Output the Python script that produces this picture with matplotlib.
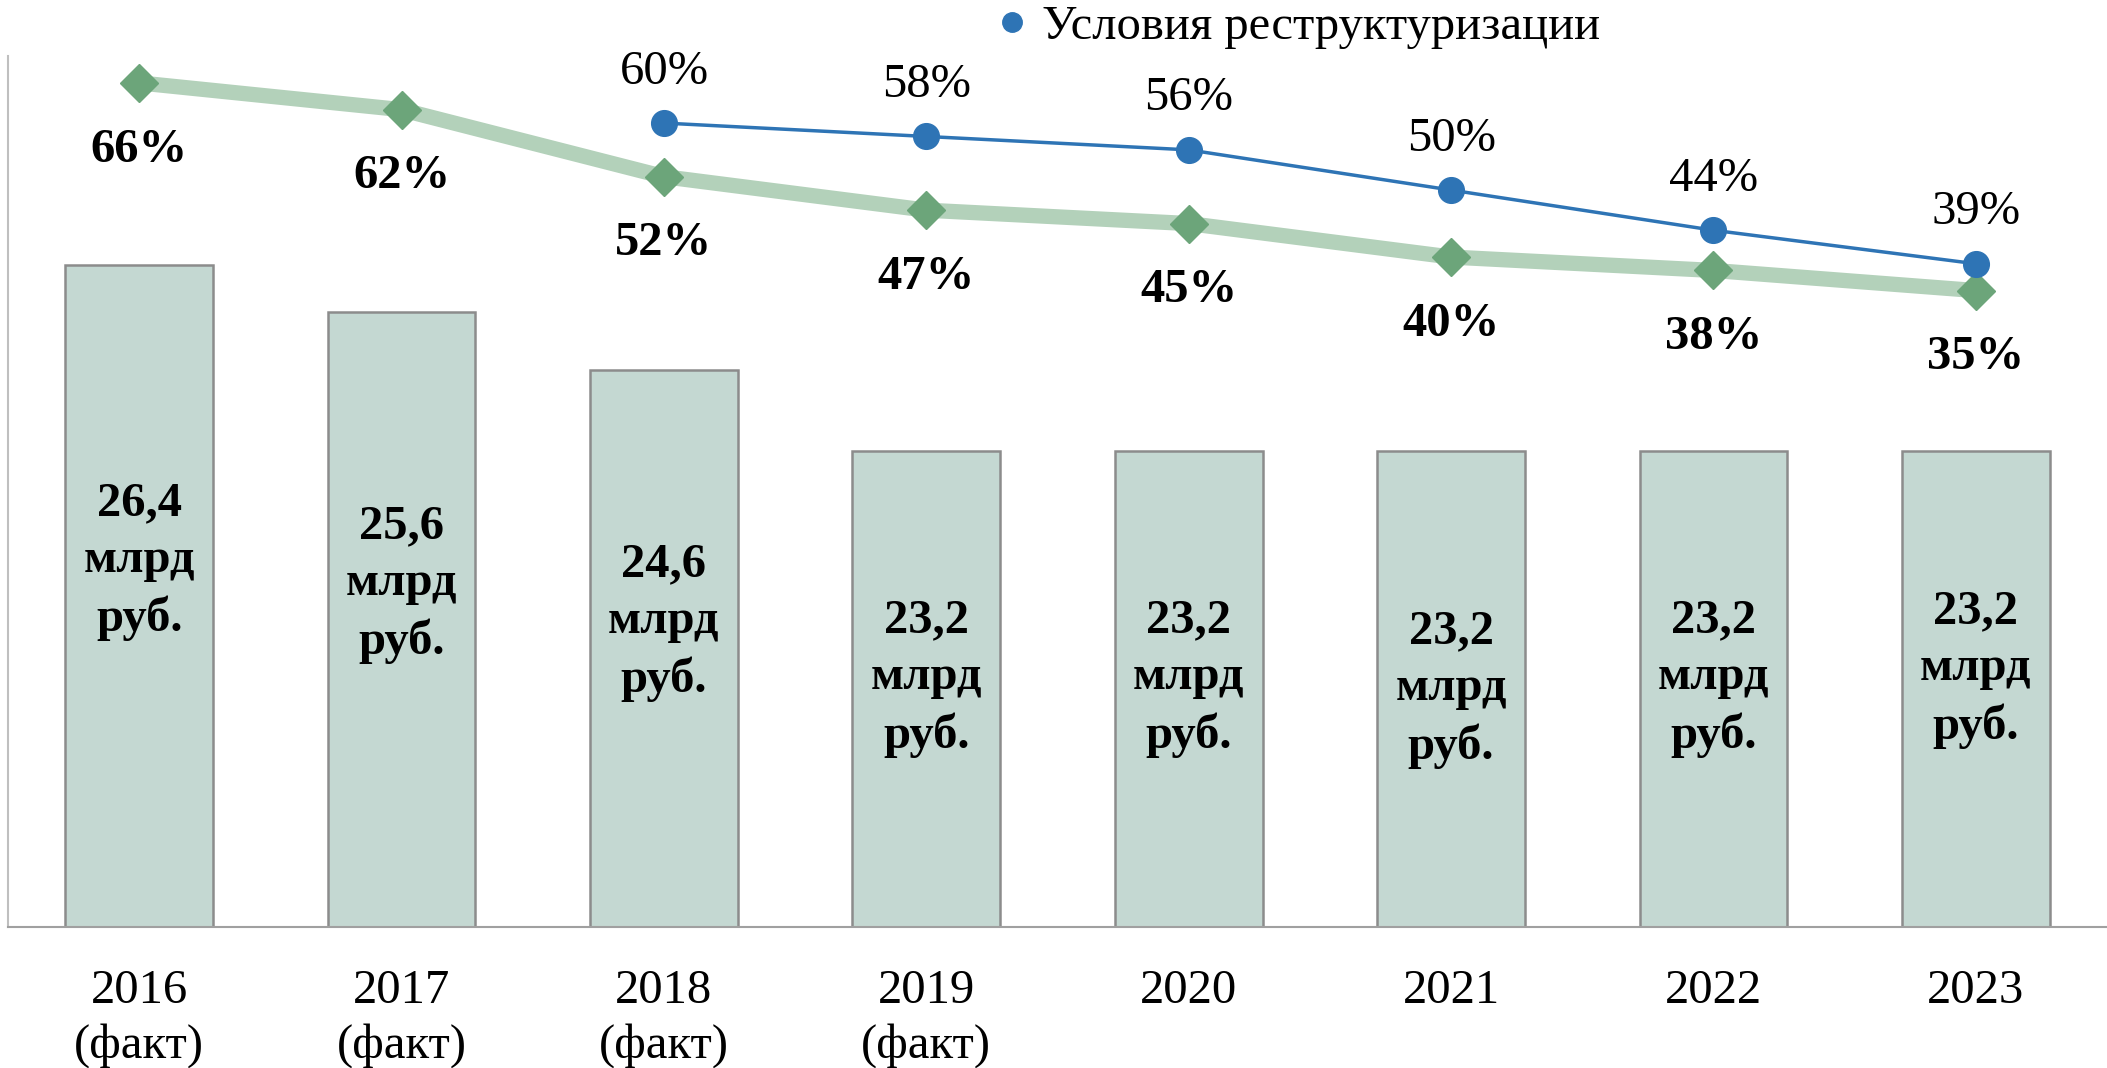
import matplotlib.pyplot as plt
from matplotlib.lines import Line2D

plt.rcParams['font.family'] = ['Liberation Serif', 'DejaVu Serif']

years = ['2016\n(факт)', '2017\n(факт)', '2018\n(факт)', '2019\n(факт)',
         '2020', '2021', '2022', '2023']
amounts = [26.4, 25.6, 24.6, 23.2, 23.2, 23.2, 23.2, 23.2]
share_actual = [66, 62, 52, 47, 45, 40, 38, 35]
restr_idx = [2, 3, 4, 5, 6, 7]
share_restr = [60, 58, 56, 50, 44, 39]
legend_label = 'Условия реструктуризации'

# vertical spot (in bar units) where the bar captions sit
caption_y = [21.3, 20.9, 20.25, 19.28, 19.28, 19.1, 19.28, 19.44]

fs = 35
x = list(range(len(years)))

fig = plt.figure(figsize=(21.07, 10.68), dpi=100)
ax = fig.add_axes([0.0038, 0.132, 0.9962, 0.8155])

ax.bar(x, amounts, width=0.563, color='#C4D8D2', edgecolor='#8C8C8C',
       linewidth=1.8, zorder=2)
ax.set_ylim(15, 30)
ax.set_xlim(-0.5, 7.5)

for i in x:
    txt = ('%.1f' % amounts[i]).replace('.', ',') + '\nмлрд\nруб.'
    ax.text(i, caption_y[i], txt, ha='center', va='center', fontsize=fs,
            fontweight='bold', linespacing=1.38, zorder=3)

ax.set_xticks(x)
ax.set_xticklabels(years, fontsize=fs, linespacing=1.3)
ax.tick_params(axis='x', length=0, pad=30)
ax.set_yticks([])
for s in ['top', 'right']:
    ax.spines[s].set_visible(False)
ax.spines['left'].set_color('#BFBFBF')
ax.spines['left'].set_linewidth(1.5)
ax.spines['bottom'].set_color('#A0A0A0')
ax.spines['bottom'].set_linewidth(1.5)

ax2 = ax.twinx()
ax2.set_ylim(-60, 70)
ax2.set_yticks([])
for s in ax2.spines.values():
    s.set_visible(False)

ax2.plot(x, share_actual, color='#B3D1BA', linewidth=11, marker='D',
         markersize=19, markerfacecolor='#6CA57A', markeredgecolor='#6CA57A',
         solid_capstyle='butt', zorder=4)
ax2.plot(restr_idx, share_restr, color='#2E74B5', linewidth=2.5, marker='o',
         markersize=18.5, zorder=5)

for i, v in zip(x, share_actual):
    ax2.annotate('%d%%' % v, (i, v), xytext=(0, -48), textcoords='offset points',
                 ha='center', va='center', fontsize=fs, fontweight='bold')
for i, v in zip(restr_idx, share_restr):
    ax2.annotate('%d%%' % v, (i, v), xytext=(0, 37), textcoords='offset points',
                 ha='center', va='center', fontsize=fs)

handle = Line2D([], [], color='#2E74B5', marker='o', linestyle='none', markersize=14)
fig.legend([handle], [legend_label], loc='center', bbox_to_anchor=(0.617, 0.975),
           frameon=False, fontsize=fs, handlelength=0.5, handletextpad=0.35,
           borderpad=0)

fig.savefig('out.png', dpi=100)
